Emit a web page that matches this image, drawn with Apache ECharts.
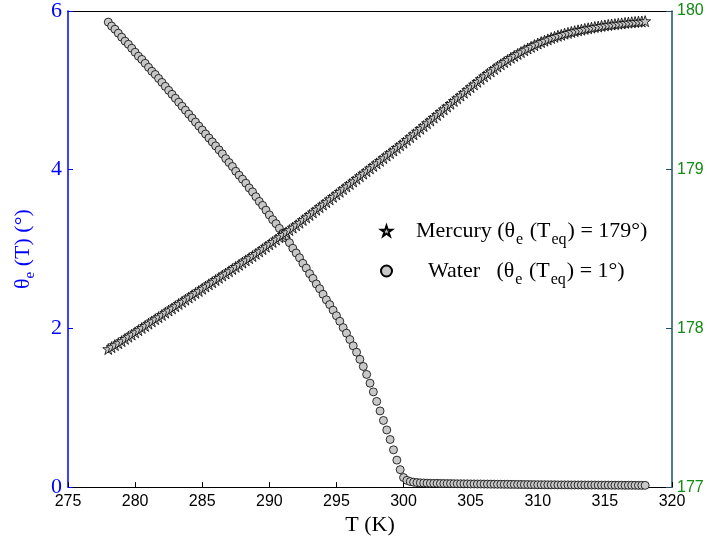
<!DOCTYPE html>
<html>
<head>
<meta charset="utf-8">
<script src="https://cdn.jsdelivr.net/npm/echarts@6/dist/echarts.min.js"></script>
<style>html,body{margin:0;padding:0;background:#fff;}#c{width:708px;height:541px;}</style>
</head>
<body>
<div id="c"></div>
<script>
// Temperature (K)
const T = [
278.00,278.25,278.50,278.75,279.00,279.25,279.50,279.75,280.00,280.25,280.50,280.75,
281.00,281.25,281.50,281.75,282.00,282.25,282.50,282.75,283.00,283.25,283.50,283.75,
284.00,284.25,284.50,284.75,285.00,285.25,285.50,285.75,286.00,286.25,286.50,286.75,
287.00,287.25,287.50,287.75,288.00,288.25,288.50,288.75,289.00,289.25,289.50,289.75,
290.00,290.25,290.50,290.75,291.00,291.25,291.50,291.75,292.00,292.25,292.50,292.75,
293.00,293.25,293.50,293.75,294.00,294.25,294.50,294.75,295.00,295.25,295.50,295.75,
296.00,296.25,296.50,296.75,297.00,297.25,297.50,297.75,298.00,298.25,298.50,298.75,
299.00,299.25,299.50,299.75,300.00,300.25,300.50,300.75,301.00,301.25,301.50,301.75,
302.00,302.25,302.50,302.75,303.00,303.25,303.50,303.75,304.00,304.25,304.50,304.75,
305.00,305.25,305.50,305.75,306.00,306.25,306.50,306.75,307.00,307.25,307.50,307.75,
308.00,308.25,308.50,308.75,309.00,309.25,309.50,309.75,310.00,310.25,310.50,310.75,
311.00,311.25,311.50,311.75,312.00,312.25,312.50,312.75,313.00,313.25,313.50,313.75,
314.00,314.25,314.50,314.75,315.00,315.25,315.50,315.75,316.00,316.25,316.50,316.75,
317.00,317.25,317.50,317.75,318.00
];
// Water theta_e (deg), left axis
const water = [
5.86,5.81,5.77,5.72, 5.67,5.62,5.58,5.53, 5.48,5.43,5.39,5.34,
5.29,5.24,5.20,5.15, 5.10,5.05,5.00,4.95, 4.90,4.85,4.80,4.75,
4.70,4.65,4.60,4.55, 4.50,4.45,4.40,4.35, 4.30,4.25,4.20,4.14,
4.09,4.04,3.98,3.93, 3.88,3.83,3.77,3.72, 3.66,3.60,3.55,3.49,
3.43,3.37,3.32,3.26, 3.20,3.14,3.08,3.01, 2.95,2.89,2.82,2.76,
2.69,2.63,2.56,2.50, 2.43,2.36,2.30,2.23, 2.16,2.09,2.01,1.94,
1.86,1.78,1.70,1.61, 1.52,1.42,1.31,1.20, 1.08,0.96,0.84,0.72,
0.60,0.47,0.34,0.22, 0.12,0.085,0.07,0.062, 0.057,0.054,0.052,0.050,
0.048,0.047,0.047,0.046, 0.045,0.044,0.044,0.043, 0.042,0.042,0.041,0.041,
0.040,0.040,0.039,0.039, 0.038,0.038,0.037,0.037, 0.036,0.036,0.035,0.035,
0.034,0.034,0.033,0.033, 0.032,0.032,0.031,0.031, 0.030,0.030,0.030,0.029,
0.029,0.029,0.028,0.028, 0.028,0.028,0.027,0.027, 0.027,0.027,0.026,0.026,
0.026,0.026,0.025,0.025, 0.025,0.025,0.024,0.024, 0.024,0.024,0.023,0.023,
0.023,0.023,0.022,0.022, 0.022
];
// Mercury theta_e (deg), right axis
const mercury = [
177.870,177.882,177.895,177.907, 177.920,177.934,177.948,177.961, 177.975,177.989,178.003,178.016,
178.030,178.044,178.058,178.071, 178.085,178.099,178.113,178.126, 178.140,178.154,178.168,178.181,
178.195,178.209,178.223,178.236, 178.250,178.264,178.278,178.291, 178.305,178.319,178.333,178.346,
178.360,178.374,178.388,178.401, 178.415,178.429,178.443,178.456, 178.470,178.485,178.500,178.515,
178.530,178.545,178.560,178.575, 178.590,178.605,178.620,178.635, 178.650,178.666,178.683,178.699,
178.715,178.731,178.748,178.764, 178.780,178.796,178.813,178.829, 178.845,178.861,178.878,178.894,
178.910,178.926,178.943,178.959, 178.975,178.991,179.008,179.024, 179.040,179.056,179.073,179.089,
179.105,179.121,179.138,179.154, 179.170,179.188,179.205,179.223, 179.240,179.258,179.275,179.293,
179.310,179.328,179.345,179.363, 179.380,179.398,179.415,179.433, 179.450,179.467,179.485,179.502,
179.520,179.537,179.554,179.571, 179.588,179.604,179.619,179.635, 179.650,179.664,179.678,179.691,
179.705,179.717,179.729,179.741, 179.753,179.764,179.774,179.785, 179.795,179.804,179.813,179.821,
179.830,179.837,179.844,179.850, 179.857,179.862,179.868,179.873, 179.878,179.882,179.887,179.891,
179.895,179.899,179.902,179.906, 179.909,179.912,179.915,179.917, 179.920,179.922,179.925,179.927,
179.929,179.931,179.933,179.934, 179.936
];
const xTicks = [275, 280, 285, 290, 295, 300, 305, 310, 315, 320];
const leftTicks = [0, 2, 4, 6];
const rightTicks = [177, 178, 179, 180];
const seriesNames = ['Mercury', 'Water'];

const STAR = 'path://M50,2 L61.5,36 L97,36 L68.5,57.5 L79.5,92 L50,71 L20.5,92 L31.5,57.5 L3,36 L38.5,36 Z';
const serif = 'Liberation Serif';
const sans = 'Liberation Sans';

const chart = echarts.init(document.getElementById('c'), null, {renderer: 'canvas'});
chart.setOption({
  animation: false,
  backgroundColor: '#ffffff',
  grid: {left: 68, right: 36, top: 11, bottom: 53},
  legend: {
    orient: 'vertical',
    left: 375, top: 215,
    itemWidth: 11, itemHeight: 11, itemGap: 12,
    selectedMode: false,
    data: seriesNames,
    formatter: function (name) {
      if (name === 'Mercury') return '{a|Mercury (θ}{s|e}{t| (T}{s|eq}{t|) = 179°)}';
      return '{b|Water   (θ}{s|e}{t| (T}{s|eq}{t|) = 1°)}';
    },
    textStyle: {
      fontFamily: serif, fontSize: 22, color: '#000',
      rich: {
        a: {fontFamily: serif, fontSize: 22, color: '#000', padding: [0, 0, 0, 19]},
        b: {fontFamily: serif, fontSize: 22, color: '#000', padding: [0, 0, 0, 31]},
        t: {fontFamily: serif, fontSize: 22, color: '#000'},
        s: {fontFamily: serif, fontSize: 16, color: '#000', padding: [18, 1, 0, 1]}
      }
    }
  },
  xAxis: [{
    type: 'value', min: 275, max: 320, interval: 5,
    name: '{t|T (K)}', nameLocation: 'middle', nameGap: 23,
    nameTextStyle: {rich: {t: {fontFamily: serif, fontSize: 22, color: '#000'}}},
    axisLine: {show: true, onZero: false, lineStyle: {color: '#000', width: 1}},
    axisTick: {show: true, inside: true, length: 5, lineStyle: {color: '#000'}},
    axisLabel: {fontFamily: sans, fontSize: 16, color: '#000', margin: 6,
      formatter: function (v) { return xTicks.indexOf(v) >= 0 ? String(v) : ''; }},
    splitLine: {show: false}
  }, {
    type: 'value', min: 275, max: 320, position: 'top',
    axisLine: {show: true, onZero: false, lineStyle: {color: '#000', width: 1}},
    axisTick: {show: false}, axisLabel: {show: false}, splitLine: {show: false}
  }],
  yAxis: [{
    type: 'value', min: 0, max: 6, interval: 2, position: 'left',
    name: '{t|θ}{s|e}{t| (T) (°)}', nameLocation: 'middle', nameGap: 30,
    nameTextStyle: {rich: {
      t: {fontFamily: serif, fontSize: 22, color: '#0000ff'},
      s: {fontFamily: serif, fontSize: 15, color: '#0000ff', padding: [15, 0, 0, 0]}
    }},
    axisLine: {show: true, onZero: false, lineStyle: {color: '#0000ff', width: 1.5}},
    axisTick: {show: true, inside: true, length: 5, lineStyle: {color: '#0000ff'}},
    axisLabel: {fontFamily: serif, fontSize: 22, color: '#0000ff', margin: 6,
      formatter: function (v) { return leftTicks.indexOf(v) >= 0 ? String(v) : ''; }},
    splitLine: {show: false}
  }, {
    type: 'value', min: 177, max: 180, interval: 1, position: 'right',
    axisLine: {show: true, onZero: false, lineStyle: {color: '#1d4f6b', width: 1.5}},
    axisTick: {show: true, inside: true, length: 6, lineStyle: {color: '#1d4f6b'}},
    axisLabel: {fontFamily: sans, fontSize: 16, color: '#138a13', margin: 5,
      formatter: function (v) { return rightTicks.indexOf(v) >= 0 ? String(v) : ''; }},
    splitLine: {show: false}
  }],
  series: [{
    name: 'Water', type: 'scatter', xAxisIndex: 0, yAxisIndex: 0,
    symbol: 'circle', symbolSize: 8,
    itemStyle: {color: '#c8c8c8', borderColor: '#000', borderWidth: 0.8, opacity: 1},
    data: T.map(function (t, i) { return [t, water[i]]; }),
    z: 2
  }, {
    name: 'Mercury', type: 'scatter', xAxisIndex: 0, yAxisIndex: 1,
    symbol: STAR, symbolSize: 11,
    itemStyle: {color: '#c8c8c8', borderColor: '#000', borderWidth: 0.8, opacity: 1},
    data: T.map(function (t, i) { return [t, mercury[i]]; }),
    z: 3
  }]
});
</script>
</body>
</html>
